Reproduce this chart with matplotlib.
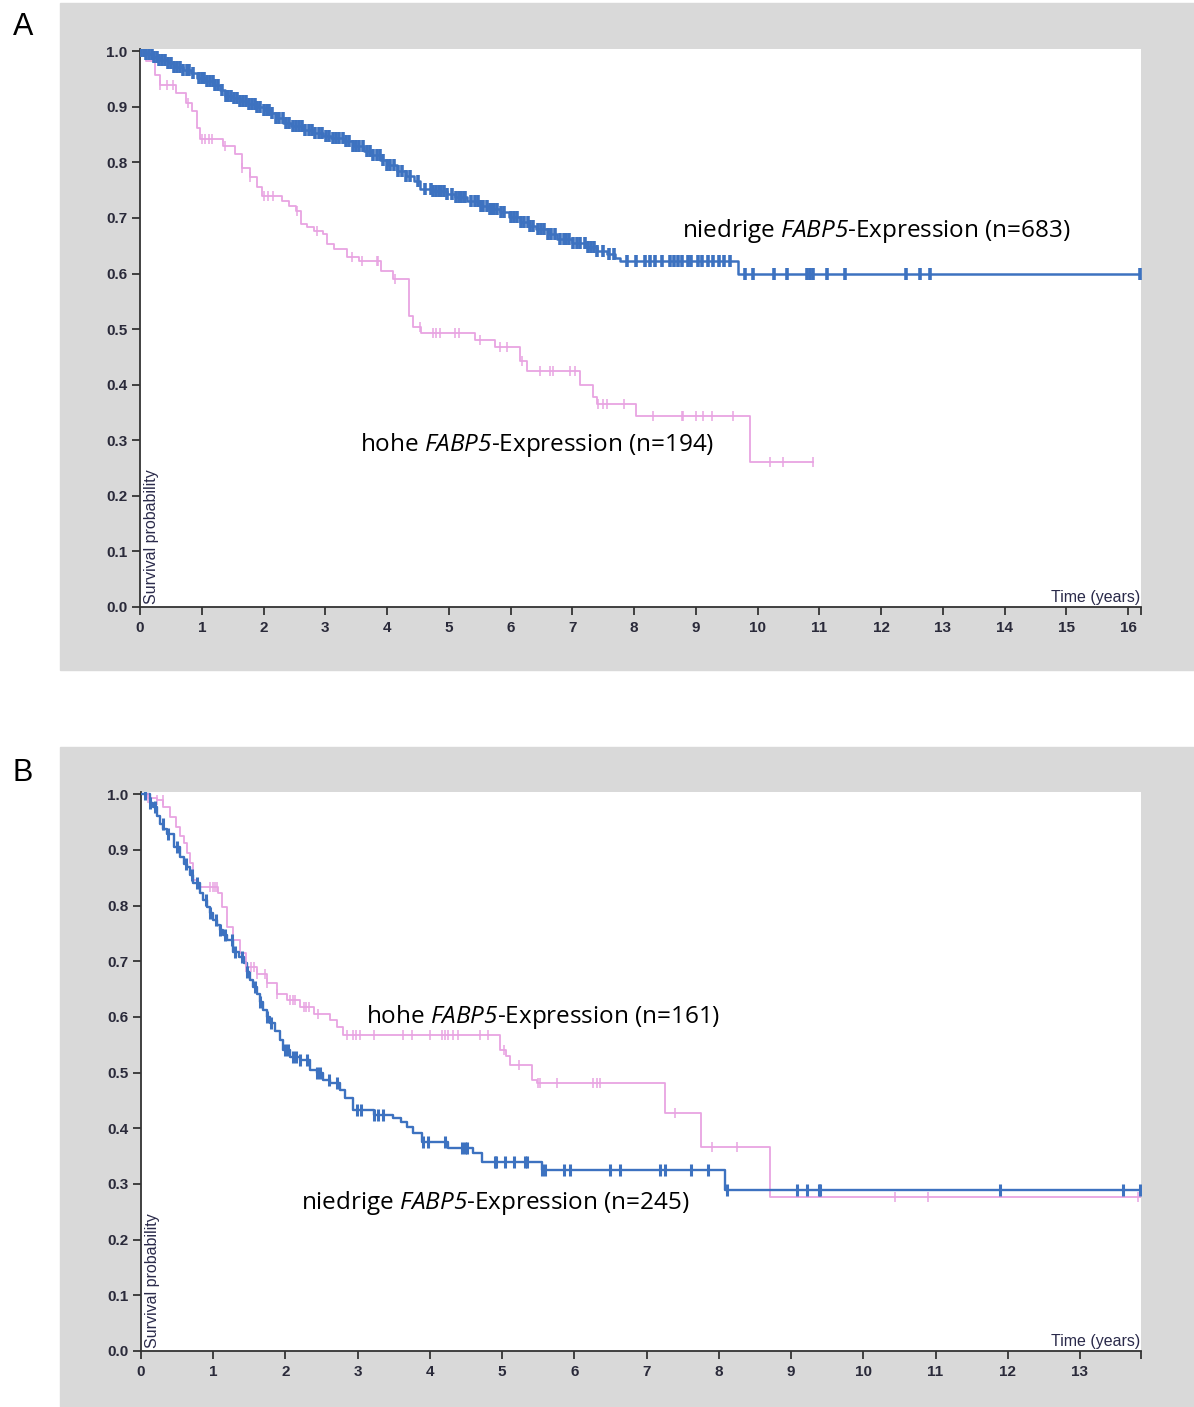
import numpy as np
import matplotlib
matplotlib.use("Agg")
import matplotlib.pyplot as plt
from matplotlib.patches import Rectangle

plt.rcParams['font.family'] = ['Liberation Sans', 'DejaVu Sans']
# italic gene name: everything inside $...$ is set in Open Sans italic
plt.rcParams['mathtext.fontset'] = 'custom'
plt.rcParams['mathtext.it'] = 'Open Sans:italic'
plt.rcParams['mathtext.rm'] = 'Open Sans:italic'

BLUE = '#3d72c0'
PINK = '#e8a4e2'

# ---- Panel A: event times (years) and survival after each event ----
a_low_t = [0.1, 0.2, 0.3, 0.45, 0.55, 0.7, 0.82, 0.92, 1.05, 1.19, 1.3, 1.38, 1.5, 1.62,
           1.75, 1.89, 2.0, 2.1, 2.2, 2.32, 2.45, 2.64, 2.8, 2.97, 3.1, 3.29, 3.45, 3.62,
           3.75, 3.89, 4.0, 4.16, 4.3, 4.43, 4.53, 4.75, 4.97, 5.1, 5.29, 5.51, 5.65, 5.83,
           5.98, 6.15, 6.3, 6.42, 6.6, 6.75, 7.0, 7.23, 7.4, 7.56, 7.7, 7.77, 9.69]
a_low_s = [0.995, 0.99, 0.985, 0.978, 0.972, 0.966, 0.96, 0.952, 0.946, 0.94, 0.93, 0.92,
           0.915, 0.91, 0.905, 0.9, 0.895, 0.889, 0.88, 0.871, 0.866, 0.859, 0.853, 0.847,
           0.843, 0.838, 0.83, 0.82, 0.813, 0.804, 0.795, 0.785, 0.776, 0.767, 0.752, 0.748,
           0.743, 0.738, 0.731, 0.722, 0.716, 0.71, 0.702, 0.692, 0.686, 0.68, 0.671, 0.662,
           0.655, 0.647, 0.641, 0.635, 0.628, 0.623, 0.599]
a_low_end = 16.21
a_low_cens = [0.02, 0.06, 0.1, 0.14, 0.19, 0.23, 0.27, 0.31, 0.36, 0.41, 0.45, 0.5, 0.55,
              0.6, 0.64, 0.7, 0.76, 0.8, 0.86, 0.95, 1.0, 1.04, 1.09, 1.13, 1.18, 1.22,
              1.27, 1.33, 1.39, 1.43, 1.48, 1.53, 1.57, 1.62, 1.67, 1.71, 1.76, 1.81, 1.86,
              1.9, 1.95, 2.0, 2.05, 2.09, 2.14, 2.2, 2.25, 2.31, 2.36, 2.42, 2.47, 2.52,
              2.57, 2.63, 2.68, 2.73, 2.79, 2.84, 2.9, 2.95, 3.01, 3.06, 3.12, 3.17, 3.22,
              3.28, 3.34, 3.39, 3.45, 3.5, 3.55, 3.61, 3.67, 3.72, 3.78, 3.83, 3.88, 3.94,
              4.0, 4.05, 4.12, 4.18, 4.24, 4.3, 4.37, 4.5, 4.62, 4.71, 4.75, 4.79, 4.84,
              4.87, 4.93, 4.97, 5.05, 5.12, 5.16, 5.2, 5.24, 5.27, 5.36, 5.42, 5.48, 5.52,
              5.56, 5.62, 5.66, 5.7, 5.74, 5.78, 5.84, 5.9, 6.0, 6.05, 6.1, 6.17, 6.22,
              6.28, 6.32, 6.37, 6.45, 6.5, 6.55, 6.6, 6.66, 6.72, 6.8, 6.86, 6.9, 6.94,
              7.02, 7.07, 7.12, 7.2, 7.25, 7.3, 7.35, 7.4, 7.5, 7.6, 7.68, 7.88, 8.04,
              8.18, 8.26, 8.34, 8.45, 8.58, 8.64, 8.72, 8.77, 8.88, 8.93, 9.04, 9.1, 9.2,
              9.28, 9.37, 9.45, 9.55, 9.8, 9.93, 10.26, 10.47, 10.8, 10.85, 10.9, 11.13,
              11.42, 12.4, 12.63, 12.8, 16.2]

a_high_t = [0.1, 0.25, 0.32, 0.58, 0.75, 0.85, 0.92, 0.97, 1.35, 1.54, 1.65, 1.78, 1.89,
            1.97, 2.3, 2.42, 2.53, 2.6, 2.7, 2.82, 2.97, 3.03, 3.14, 3.35, 3.55, 3.9, 4.1,
            4.35, 4.42, 4.55, 5.43, 5.75, 6.15, 6.26, 7.13, 7.33, 7.4, 8.04, 9.88]
a_high_s = [0.982, 0.958, 0.94, 0.925, 0.907, 0.892, 0.862, 0.842, 0.829, 0.815, 0.79,
            0.773, 0.755, 0.74, 0.731, 0.722, 0.713, 0.689, 0.683, 0.677, 0.671, 0.653,
            0.645, 0.629, 0.623, 0.605, 0.59, 0.524, 0.503, 0.4925, 0.481, 0.467, 0.443,
            0.424, 0.4, 0.378, 0.366, 0.343, 0.261]
a_high_end = 10.9
a_high_cens = [0.05, 0.32, 0.43, 0.54, 0.78, 1.0, 1.05, 1.11, 1.16, 1.38, 1.65, 1.78, 2.0,
               2.08, 2.16, 2.54, 2.86, 3.43, 3.59, 3.83, 3.86, 4.13, 4.53, 4.75, 4.8, 4.86,
               5.1, 5.16, 5.51, 5.83, 5.94, 6.18, 6.48, 6.64, 6.69, 6.96, 7.04, 7.42, 7.5,
               7.56, 7.83, 8.31, 8.77, 8.8, 9.01, 9.12, 9.26, 9.61, 10.2, 10.42, 10.9]

# ---- Panel B ----
b_low_t = [0.12, 0.17, 0.22, 0.26, 0.31, 0.36, 0.45, 0.54, 0.6, 0.63, 0.68, 0.72, 0.82,
           0.86, 0.91, 0.96, 1.0, 1.05, 1.09, 1.14, 1.19, 1.28, 1.35, 1.42, 1.47, 1.51,
           1.55, 1.6, 1.65, 1.69, 1.74, 1.79, 1.85, 1.92, 1.97, 2.06, 2.2, 2.34, 2.43,
           2.52, 2.62, 2.76, 2.82, 2.94, 3.22, 3.49, 3.6, 3.68, 3.77, 3.89, 4.25, 4.6,
           4.72, 5.55, 8.09]
b_low_s = [0.985, 0.977, 0.96, 0.947, 0.938, 0.929, 0.905, 0.888, 0.875, 0.87, 0.855,
           0.84, 0.822, 0.81, 0.798, 0.786, 0.774, 0.765, 0.756, 0.747, 0.738, 0.717,
           0.707, 0.697, 0.68, 0.666, 0.654, 0.642, 0.627, 0.612, 0.6, 0.589, 0.574,
           0.558, 0.54, 0.528, 0.522, 0.505, 0.499, 0.487, 0.481, 0.469, 0.455, 0.433,
           0.424, 0.418, 0.412, 0.403, 0.391, 0.376, 0.364, 0.355, 0.34, 0.325, 0.29]
b_low_end = 13.845
b_low_cens = [0.05, 0.12, 0.2, 0.3, 0.38, 0.5, 0.62, 0.7, 0.78, 0.9, 0.96, 1.04, 1.1,
              1.16, 1.26, 1.3, 1.4, 1.47, 1.58, 1.65, 1.74, 1.8, 1.99, 2.04, 2.1, 2.15,
              2.2, 2.3, 2.43, 2.48, 2.6, 2.72, 2.99, 3.05, 3.23, 3.28, 3.35, 3.91, 3.98,
              4.21, 4.44, 4.49, 4.52, 4.9, 4.92, 5.04, 5.16, 5.32, 5.34, 5.55, 5.59, 5.85,
              5.94, 6.49, 6.63, 7.19, 7.25, 7.62, 7.85, 8.11, 9.08, 9.22, 9.38, 9.4,
              11.89, 13.6, 13.83]

b_high_t = [0.1, 0.22, 0.31, 0.4, 0.49, 0.54, 0.59, 0.64, 0.68, 0.72, 0.77, 1.07, 1.12,
            1.19, 1.28, 1.37, 1.46, 1.6, 1.74, 1.88, 2.02, 2.2, 2.39, 2.62, 2.71, 2.8,
            4.97, 5.06, 5.11, 5.41, 5.48, 7.26, 7.76, 8.71]
b_high_s = [0.994, 0.989, 0.977, 0.959, 0.941, 0.925, 0.912, 0.895, 0.876, 0.846, 0.834,
            0.822, 0.798, 0.762, 0.738, 0.714, 0.69, 0.678, 0.661, 0.642, 0.63, 0.618,
            0.606, 0.594, 0.582, 0.567, 0.54, 0.529, 0.513, 0.487, 0.481, 0.428, 0.367,
            0.277]
b_high_end = 13.845
b_high_cens = [0.1, 0.22, 0.3, 0.96, 1.0, 1.02, 1.05, 1.28, 1.46, 1.52, 1.56, 1.6, 1.71,
               1.75, 1.88, 2.06, 2.1, 2.13, 2.25, 2.28, 2.32, 2.45, 2.85, 2.94, 2.98, 3.03,
               3.22, 3.63, 3.75, 4.0, 4.17, 4.21, 4.25, 4.32, 4.39, 4.69, 4.81, 5.02, 5.23,
               5.5, 5.52, 5.76, 6.26, 6.31, 6.36, 7.39, 7.9, 8.25, 10.44, 10.9, 13.81]

a_xmax = 16.21
b_xmax = 13.845
a_xticks = list(range(0, 17))
b_xticks = list(range(0, 14))
yticks = [i / 10 for i in range(11)]

W, H = 1194, 1407


def km(ax, times, surv, t_end, cens, color, lw, ms, mew):
    x = [0.0] + list(times) + [t_end]
    y = [1.0] + list(surv) + [surv[-1]]
    ax.step(x, y, where='post', color=color, lw=lw, zorder=3)
    t = np.asarray(times)
    s = np.asarray(surv)
    c = np.asarray(cens)
    idx = np.searchsorted(t, c, side='right') - 1
    cy = np.where(idx >= 0, s[np.clip(idx, 0, None)], 1.0)
    ax.plot(c, cy, ls='none', marker='|', ms=ms, mew=mew, color=color, zorder=4)


def style(ax, xmax, xticks):
    ax.set_xlim(0, xmax)
    ax.set_ylim(0, 1.004)
    for sp in ('top', 'right'):
        ax.spines[sp].set_visible(False)
    for sp in ('left', 'bottom'):
        ax.spines[sp].set_color('#333333')
        ax.spines[sp].set_linewidth(1.3)
    ax.set_xticks(xticks + [xmax])
    ax.set_xticklabels([str(v) for v in xticks] + [''])
    ax.set_yticks(yticks)
    ax.set_yticklabels([f'{v:.1f}' for v in yticks])
    ax.tick_params(direction='out', length=6, width=1.3, color='#333333',
                   labelsize=11, labelcolor='#2a2a3a', pad=3)
    ax.tick_params(axis='x', pad=4)
    for lab in ax.get_xticklabels() + ax.get_yticklabels():
        lab.set_fontweight('bold')
    ax.text(0.004, 0.006, 'Survival probability', transform=ax.transAxes, rotation=90,
            ha='left', va='bottom', fontsize=11.5, color='#2a2a4a')
    ax.text(0.999, 0.004, 'Time (years)', transform=ax.transAxes,
            ha='right', va='bottom', fontsize=11.5, color='#2a2a4a')


fig = plt.figure(figsize=(W / 100, H / 100), dpi=100)

# grey panel backgrounds on a full-figure axes behind everything
bg = fig.add_axes([0, 0, 1, 1], zorder=-10)
bg.set_xlim(0, W)
bg.set_ylim(H, 0)
bg.axis('off')
bg.add_patch(Rectangle((60, 3), W - 60, 667, color='#d9d9d9'))
bg.add_patch(Rectangle((60, 747), W - 60, H - 747, color='#d9d9d9'))

axA = fig.add_axes([140 / W, 1 - 607 / H, (1141 - 140) / W, (607 - 49) / H])
axB = fig.add_axes([141 / W, 1 - 1351 / H, (1141 - 141) / W, (1351 - 792) / H])

km(axA, a_high_t, a_high_s, a_high_end, a_high_cens, PINK, 1.3, 7, 1.1)
km(axA, a_low_t, a_low_s, a_low_end, a_low_cens, BLUE, 1.8, 9, 2.6)
km(axB, b_high_t, b_high_s, b_high_end, b_high_cens, PINK, 1.3, 7, 1.1)
km(axB, b_low_t, b_low_s, b_low_end, b_low_cens, BLUE, 1.7, 8, 2.2)

style(axA, a_xmax, a_xticks)
style(axB, b_xmax, b_xticks)

lab_kw = dict(fontsize=17.5, color='black', va='center', ha='left',
              family=['Open Sans', 'DejaVu Sans'])
axA.text(8.78, 0.677, r'niedrige $\mathrm{FABP5}$-Expression (n=683)', **lab_kw)
axA.text(3.56, 0.291, r'hohe $\mathrm{FABP5}$-Expression (n=194)', **lab_kw)
axB.text(3.115, 0.600, r'hohe $\mathrm{FABP5}$-Expression (n=161)', **lab_kw)
axB.text(2.215, 0.266, r'niedrige $\mathrm{FABP5}$-Expression (n=245)', **lab_kw)

fig.text(23 / W, 1 - 27 / H, 'A', fontsize=22, ha='center', va='center')
fig.text(23 / W, 1 - 773 / H, 'B', fontsize=22, ha='center', va='center')

fig.savefig('out.png', dpi=100, facecolor='white')
